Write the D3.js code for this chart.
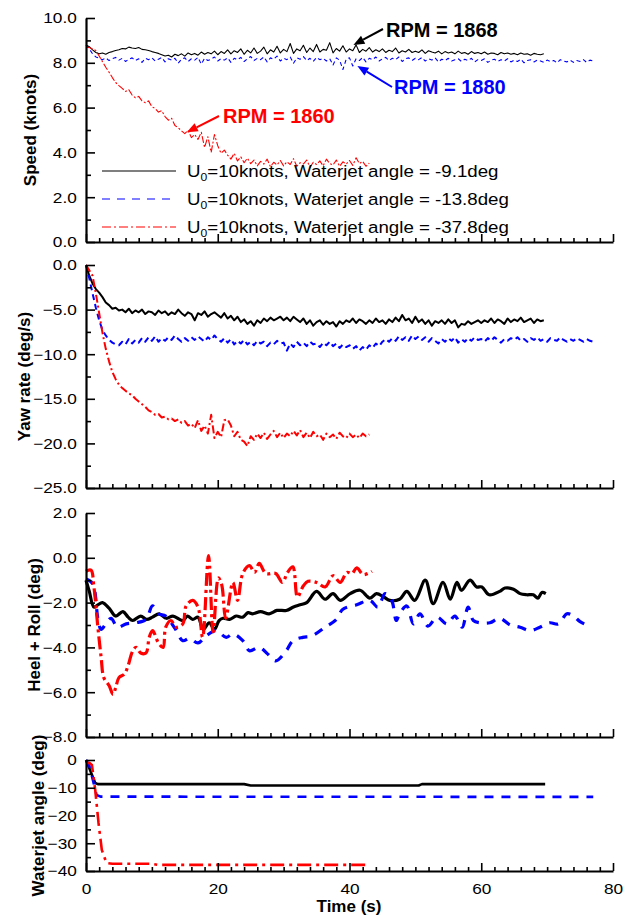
<!DOCTYPE html>
<html>
<head>
<meta charset="utf-8">
<script src="https://cdn.jsdelivr.net/npm/d3@7"></script>
<style>
  body { margin: 0; background: #fff; }
  svg { display: block; font-family: "Liberation Sans", Arial, sans-serif; }
</style>
</head>
<body>
<div id="chart"></div>
<script>
// sample spacing (s) for the noisy records
var DT = 0.5

// Speed (knots), one value every DT seconds from t = 0
var speedBlack = [
  8.80, 8.72, 8.58, 8.46, 8.40, 8.44, 8.38, 8.46, 8.50, 8.55,
  8.58, 8.64, 8.62, 8.70, 8.66, 8.64, 8.68, 8.60, 8.58, 8.55,
  8.50, 8.46, 8.42, 8.36, 8.30, 8.34, 8.26, 8.38, 8.32, 8.40,
  8.30, 8.44, 8.36, 8.42, 8.34, 8.48, 8.38, 8.46, 8.40, 8.52,
  8.36, 8.50, 8.42, 8.58, 8.40, 8.54, 8.46, 8.62, 8.38, 8.56,
  8.44, 8.66, 8.42, 8.52, 8.70, 8.40, 8.58, 8.48, 8.74, 8.44,
  8.60, 8.50, 8.86, 8.42, 8.62, 8.54, 8.78, 8.46, 8.66, 8.50,
  8.82, 8.48, 8.60, 8.56, 8.90, 8.44, 8.64, 8.52, 8.76, 8.48,
  8.62, 8.54, 8.80, 8.46, 8.60, 8.52, 8.68, 8.48, 8.58, 8.50,
  8.62, 8.46, 8.56, 8.50, 8.66, 8.44, 8.54, 8.48, 8.60, 8.46,
  8.52, 8.46, 8.58, 8.42, 8.54, 8.48, 8.44, 8.52, 8.40, 8.50,
  8.44, 8.48, 8.40, 8.52, 8.42, 8.46, 8.38, 8.50, 8.42, 8.46,
  8.40, 8.48, 8.38, 8.44, 8.42, 8.36, 8.46, 8.40, 8.44, 8.38,
  8.42, 8.36, 8.44, 8.38, 8.40, 8.34, 8.42, 8.38, 8.36, 8.40
]
var speedBlue = [
  8.80, 8.62, 8.40, 8.26, 8.20, 8.14, 8.22, 8.10, 8.18, 8.24,
  8.12, 8.20, 8.06, 8.16, 8.22, 8.10, 8.18, 8.02, 8.20, 8.14,
  8.22, 8.08, 8.16, 8.24, 8.04, 8.18, 8.12, 8.20, 7.98, 8.16,
  8.22, 8.06, 8.18, 8.12, 8.24, 7.94, 8.20, 8.10, 8.16, 8.26,
  8.08, 8.18, 8.12, 8.22, 8.02, 8.20, 8.14, 8.24, 8.06, 8.18,
  8.28, 8.10, 8.20, 8.14, 8.26, 8.04, 8.22, 8.16, 8.30, 8.08,
  8.20, 8.14, 8.26, 7.98, 8.22, 8.16, 8.28, 8.10, 8.20, 8.06,
  8.24, 8.14, 8.20, 8.08, 8.18, 7.90, 8.22, 8.12, 7.70, 8.16,
  8.22, 7.86, 8.18, 8.10, 8.24, 8.04, 8.20, 8.14, 8.26, 8.08,
  8.18, 8.24, 8.10, 8.20, 8.14, 8.26, 8.06, 8.18, 8.22, 8.10,
  8.20, 8.14, 8.24, 8.08, 8.18, 8.12, 8.22, 8.04, 8.16, 8.10,
  8.20, 8.08, 8.14, 8.18, 8.06, 8.16, 8.10, 8.20, 8.04, 8.14,
  8.10, 8.18, 8.02, 8.12, 8.16, 8.06, 8.14, 8.08, 8.18, 8.04,
  8.12, 8.06, 8.16, 8.00, 8.10, 8.14, 8.04, 8.12, 8.08, 8.02,
  8.12, 8.06, 8.10, 8.00, 8.14, 8.08, 8.04, 8.12, 8.02, 8.10,
  8.06, 8.14, 8.02, 8.12, 8.08
]
var speedRed = [
  8.70, 8.68, 8.62, 8.55, 8.30, 8.05, 7.80, 7.58, 7.34, 7.12,
  6.98, 6.86, 6.72, 6.80, 6.56, 6.44, 6.50, 6.30, 6.22, 6.30,
  6.04, 5.96, 5.80, 5.86, 5.60, 5.44, 5.52, 5.20, 5.10, 4.96,
  4.84, 4.98, 4.66, 4.80, 4.58, 4.90, 4.22, 4.70, 4.00, 4.80,
  4.30, 3.96, 4.10, 3.88, 3.70, 3.96, 3.62, 3.80, 3.54, 3.74,
  3.50, 3.66, 3.40, 3.60, 3.48, 3.70, 3.36, 3.56, 3.44, 3.64,
  3.40, 3.58, 3.46, 3.72, 3.38, 3.54, 3.48, 3.66, 3.34, 3.56,
  3.46, 3.62, 3.40, 3.70, 3.50, 3.44, 3.66, 3.38, 3.58, 3.48,
  3.64, 3.42, 3.76, 3.50, 3.60, 3.38, 3.52
]

// Yaw rate (deg/s), one value every DT seconds from t = 0
var yawBlack = [
  0.00, -1.20, -2.10, -2.70, -3.10, -3.60, -4.20, -4.50, -4.90, -4.80,
  -5.10, -5.00, -5.30, -4.90, -5.40, -5.10, -5.30, -5.00, -5.50, -5.20,
  -5.30, -5.60, -5.10, -5.40, -5.20, -5.60, -5.30, -5.50, -5.00, -5.40,
  -5.70, -5.30, -5.50, -6.20, -5.40, -5.60, -5.20, -5.80, -5.50, -5.30,
  -5.60, -5.90, -5.40, -6.00, -5.70, -6.20, -5.80, -6.40, -6.10, -6.60,
  -6.30, -6.80, -6.20, -6.50, -6.00, -6.30, -5.90, -6.20, -6.00, -5.80,
  -6.20, -5.90, -6.30, -5.80, -6.10, -6.40, -6.00, -6.60, -6.20, -6.80,
  -6.40, -6.20, -6.70, -6.30, -6.60, -6.40, -6.90, -6.30, -6.60, -6.20,
  -6.40, -6.00, -6.50, -6.10, -6.30, -6.60, -6.20, -6.50, -6.00, -6.40,
  -6.20, -6.60, -6.10, -6.40, -5.90, -6.30, -5.60, -6.20, -6.00, -6.50,
  -5.80, -6.40, -6.10, -6.60, -6.20, -6.80, -6.30, -6.50, -6.20, -6.60,
  -6.10, -6.50, -6.20, -7.00, -6.60, -6.70, -6.30, -6.60, -6.40, -6.20,
  -6.50, -6.20, -6.40, -6.00, -6.50, -6.10, -6.30, -6.60, -6.00, -6.40,
  -6.10, -6.30, -5.90, -6.40, -6.20, -6.00, -6.50, -6.10, -6.30, -6.20
]
var yawBlue = [
  0.00, -1.50, -3.20, -4.80, -6.20, -7.30, -7.90, -8.40, -8.70, -8.90,
  -9.00, -8.60, -8.90, -8.30, -8.80, -8.40, -8.70, -8.20, -8.60, -8.10,
  -8.50, -8.00, -8.60, -8.20, -8.50, -8.10, -8.40, -7.90, -8.30, -8.60,
  -8.20, -8.50, -8.10, -8.40, -8.00, -8.30, -8.60, -8.10, -8.40, -7.90,
  -8.30, -8.60, -8.20, -8.70, -8.30, -8.90, -8.50, -8.80, -8.40, -8.90,
  -8.60, -9.00, -8.50, -8.80, -8.60, -9.10, -8.70, -8.90, -8.50, -8.80,
  -8.70, -9.60, -8.80, -9.20, -8.60, -9.00, -8.70, -9.10, -8.60, -8.90,
  -8.80, -9.20, -8.70, -9.00, -8.60, -9.10, -8.80, -9.30, -8.90, -9.20,
  -9.00, -9.40, -9.10, -9.60, -9.20, -9.50, -9.00, -9.30, -8.80, -9.10,
  -8.60, -8.30, -8.60, -8.20, -8.50, -8.00, -8.40, -8.10, -8.50, -7.90,
  -8.30, -8.00, -8.40, -8.10, -8.60, -8.20, -8.50, -8.80, -8.30, -8.60,
  -8.20, -8.50, -8.10, -8.70, -8.30, -8.60, -8.20, -8.50, -8.10, -8.40,
  -8.30, -8.60, -8.20, -8.50, -8.10, -8.40, -8.70, -8.30, -8.50, -8.20,
  -8.40, -8.10, -8.50, -8.30, -8.60, -8.20, -8.40, -8.10, -8.50, -8.30,
  -8.60, -8.20, -8.40, -8.50, -8.10, -8.40, -8.60, -8.30, -8.50, -8.20,
  -8.40, -8.60, -8.30, -8.50, -8.60
]
var yawRed = [
  0.00, -0.60, -1.20, -3.20, -5.40, -7.60, -9.40, -10.80, -12.00, -12.80,
  -13.40, -13.80, -14.10, -14.40, -14.60, -15.00, -15.30, -15.60, -15.90, -16.30,
  -16.50, -16.80, -16.70, -17.10, -17.00, -17.30, -17.20, -17.50, -17.30, -17.70,
  -17.50, -18.00, -17.80, -18.30, -17.40, -18.60, -18.00, -18.90, -16.80, -19.40,
  -18.70, -19.30, -17.40, -17.30, -18.00, -19.20, -18.70, -19.60, -19.80, -20.30,
  -19.20, -19.60, -18.90, -19.40, -18.80, -19.50, -19.00, -18.60, -19.30, -18.80,
  -19.40, -18.90, -19.20, -18.60, -19.10, -18.50, -19.30, -18.80, -19.40, -18.70,
  -19.20, -19.00, -19.60, -18.90, -19.30, -19.00, -19.50, -18.80, -19.20, -19.40,
  -18.90, -19.30, -19.00, -19.40, -18.90, -19.20, -19.00
]

// Heel + Roll (deg), [time, value]
var heelBlack = [[0,-1.0],[0.5,-1.5],[1.2,-2.2],[1.8,-2.1],[2.5,-2.0],[3.5,-2.25],[4.5,-2.6],[5.6,-2.4],[6.4,-2.65],[7.1,-2.8],[8.3,-2.6],[9.2,-2.75],[10.1,-2.65],[11.1,-2.5],[12.2,-2.7],[13.2,-2.6],[14.7,-2.8],[15.4,-2.6],[16.2,-2.75],[17.0,-2.65],[17.8,-3.2],[18.7,-2.9],[19.5,-3.2],[20.2,-2.8],[20.8,-2.7],[21.8,-2.75],[22.8,-2.6],[23.8,-2.65],[24.6,-2.45],[25.3,-2.5],[26.5,-2.4],[27.8,-2.5],[29,-2.35],[30.4,-2.35],[31.5,-2.2],[32.5,-2.1],[33.5,-2.0],[35,-1.5],[36.3,-1.85],[37.5,-1.6],[38.6,-1.9],[40.1,-1.6],[41.6,-1.45],[43.1,-1.8],[44.1,-1.6],[45.2,-1.75],[46.1,-1.9],[47.6,-1.85],[48.7,-1.5],[49.9,-1.9],[51.5,-1.0],[52.7,-2.05],[54.2,-1.1],[55.3,-1.85],[56.3,-1.1],[57,-1.45],[58.3,-1.0],[59.3,-1.3],[60.1,-1.3],[61.2,-1.65],[62.8,-1.5],[63.6,-1.35],[64.9,-1.4],[65.9,-1.6],[66.9,-1.65],[67.9,-1.65],[68.6,-1.8],[69.2,-1.55],[69.8,-1.6]]
var heelBlue = [[0,-0.95],[1,-1.15],[1.8,-2.7],[2.3,-3.2],[3,-2.95],[3.8,-2.7],[4.8,-3.1],[6.1,-2.95],[7.6,-2.9],[9.1,-2.75],[10.1,-2.15],[11,-2.5],[12.1,-2.6],[13.4,-3.1],[14.7,-3.7],[15.7,-3.6],[17,-3.8],[18.2,-3.5],[19.7,-3.25],[21.3,-3.55],[22.3,-3.4],[23.8,-3.7],[24.8,-4.15],[26.3,-4.0],[27.6,-4.3],[28.8,-4.6],[30.4,-4.15],[31.4,-3.7],[32.9,-3.55],[34.2,-3.5],[36.3,-3.1],[38,-2.75],[39,-2.3],[41.1,-2.1],[43.1,-1.9],[44.3,-2.2],[45.4,-1.6],[46.4,-1.9],[47.1,-2.8],[47.6,-2.5],[48.7,-2.15],[49.7,-2.95],[50.7,-2.5],[51.9,-3.05],[53.3,-2.65],[54.8,-2.95],[56,-2.6],[57.1,-3.1],[58,-2.2],[58.8,-2.8],[59.8,-2.9],[61.3,-2.9],[62.8,-2.7],[64.4,-3.0],[65.9,-3.1],[67.4,-3.25],[68.9,-3.1],[70.4,-2.9],[71.7,-2.95],[73,-2.5],[74,-2.6],[75,-2.85],[76,-3.0]]
var heelRed = [[0,-0.6],[0.75,-0.55],[1.2,-1.3],[1.8,-3.1],[2.3,-4.45],[2.7,-5.35],[3.5,-5.7],[4.1,-6.1],[4.5,-5.8],[5,-5.35],[5.8,-5.2],[6.3,-4.9],[7.1,-4.15],[7.6,-4.0],[8.3,-4.25],[9.1,-4.25],[9.6,-3.55],[10.1,-3.25],[11,-3.8],[11.7,-4.0],[12.1,-3.1],[12.9,-2.8],[13.7,-3.1],[14.7,-2.95],[15.2,-2.15],[16.2,-1.9],[17,-2.2],[17.7,-3.55],[18.6,0.1],[19.3,-3.3],[20.1,-0.9],[20.6,-1.2],[21.2,-2.7],[22.3,-1.1],[23,-1.9],[23.8,-0.7],[24.8,-0.35],[25.6,-0.65],[26.3,-0.25],[27.3,-0.7],[28.8,-0.7],[29.8,-1.1],[30.6,-0.65],[31.4,-0.4],[32.1,-1.75],[33,-1.25],[33.7,-1.05],[35,-1.1],[36.3,-1.3],[37.5,-0.8],[38.6,-1.1],[39.6,-0.65],[40.4,-0.7],[41.1,-0.45],[42.1,-0.75],[43.4,-0.6]]

// Waterjet angle (deg), [time, value]
var jetBlack = [[0,0],[1.4,-8.3],[1.8,-8.7],[24,-8.7],[25,-9.2],[50.5,-9.2],[51,-8.7],[69.7,-8.7]]
var jetBlue = [[0,0],[0.5,-2],[1.6,-12.6],[2.2,-13.2],[77,-13.3]]
var jetRed = [[0,-1.1],[0.5,-1.0],[0.9,-1.8],[1.4,-10.8],[1.9,-22.7],[2.4,-32.4],[3.1,-37.1],[4,-37.4],[10,-37.4],[11,-37.8],[43,-37.8]]

var legendAngles = ["-9.1", "-13.8", "-37.8"]
var timeTicks = [0, 20, 40, 60, 80]

// RPM call-outs: label and the [time, speed] point the arrow touches
var rpmNotes = [
  {label: "RPM = 1868", color: "#000", at: [40.6, 8.8], tx: 386, ty: 37, ax: 383, ay: 29},
  {label: "RPM = 1880", color: "#0000ff", at: [41.2, 7.86], tx: 394, ty: 94, ax: 392, ay: 87},
  {label: "RPM = 1860", color: "#ff0000", at: [15.3, 4.9], tx: 223, ty: 123, ax: 219, ay: 116}
]

function sampled(arr) { return arr.map(function(v, i) { return [i * DT, v] }) }

var colors = ["#000000", "#0000ff", "#ff0000"]

var panels = [
  {title: "Speed (knots)", top: 18, bottom: 242, domain: [0, 10], majors: d3.range(0, 10.01, 2), minors: d3.range(1, 10, 2), fmt: d3.format(".1f"), titleX: 30,
   series: [sampled(speedBlack), sampled(speedBlue), sampled(speedRed)], width: 1.1, dash: [null, "4,3", "7,2,2,2"], curve: d3.curveLinear},
  {title: "Yaw rate (deg/s)", top: 265, bottom: 488, domain: [-25, 0], majors: d3.range(-25, 0.01, 5), minors: d3.range(-22.5, 0, 5), fmt: d3.format(".1f"), titleX: 24,
   series: [sampled(yawBlack), sampled(yawBlue), sampled(yawRed)], width: 2, dash: [null, "6,4", "8,3,2,3"], curve: d3.curveLinear},
  {title: "Heel + Roll (deg)", top: 513, bottom: 737, domain: [-8, 2], majors: d3.range(-8, 2.01, 2), minors: d3.range(-7, 2, 2), fmt: d3.format(".1f"), titleX: 34,
   series: [heelBlack, heelBlue, heelRed], width: 3.2, dash: [null, "9,8", "13,4,3,4"], curve: d3.curveCatmullRom},
  {title: "Waterjet angle (deg)", top: 760, bottom: 871, domain: [-40, 0], majors: d3.range(-40, 0.01, 10), minors: d3.range(-35, 0, 10), fmt: d3.format("d"), titleX: 38,
   series: [jetBlack, jetBlue, jetRed], width: 2.6, dash: [null, "9,8", "14,5,3,5"], curve: d3.curveLinear}
]

var svg = d3.select('#chart').append('svg').attr('width', 637).attr('height', 916)

var x = d3.scaleLinear().domain([0, 80]).range([86, 613])

panels.forEach(function(p, pi) {
  var y = d3.scaleLinear().domain(p.domain).range([p.bottom, p.top])
  var g = svg.append('g')

  // curves
  p.series.forEach(function(s, si) {
    var line = d3.line().x(function(d) { return x(d[0]) }).y(function(d) { return y(d[1]) }).curve(p.curve)
    g.append('path')
      .attr('d', line(s))
      .attr('fill', 'none')
      .attr('stroke', colors[si])
      .attr('stroke-width', p.width)
      .attr('stroke-linejoin', 'round')
      .attr('stroke-dasharray', p.dash[si])
  })

  // y axis, majors then minors, ticks pointing inward
  var ya = g.append('g').attr('transform', 'translate(86,0)')
    .call(d3.axisLeft(y).tickValues(p.majors).tickFormat(p.fmt).tickSize(-9).tickSizeOuter(0).tickPadding(8))
  g.append('g').attr('transform', 'translate(86,0)')
    .call(d3.axisLeft(y).tickValues(p.minors).tickFormat('').tickSize(-5).tickSizeOuter(0))
    .select('.domain').remove()
  ya.selectAll('text')
    .attr('font-size', 15)
    .attr('font-family', '"Liberation Sans", Arial, sans-serif')
    .attr('fill', '#000')
    .attr('transform', 'scale(1.15,1)')

  // x axis at the bottom of every panel
  var last = pi === panels.length - 1
  var xa = g.append('g').attr('transform', 'translate(0,' + p.bottom + ')')
    .call(d3.axisBottom(x).tickValues(timeTicks).tickFormat(last ? d3.format('d') : '').tickSize(-8).tickSizeOuter(0).tickPadding(12))
  g.append('g').attr('transform', 'translate(0,' + p.bottom + ')')
    .call(d3.axisBottom(x).tickValues(d3.range(2, 80, 2).filter(function(t) { return t % 20 !== 0 })).tickFormat('').tickSize(-4).tickSizeOuter(0))
    .select('.domain').remove()
  xa.selectAll('text')
    .attr('font-size', 15)
    .attr('font-family', '"Liberation Sans", Arial, sans-serif')
    .attr('fill', '#000')
    .attr('transform', 'scale(1.15,1)')

  g.selectAll('.domain').attr('stroke-width', 2.2)
  g.selectAll('.tick line').attr('stroke-width', 1.6)

  svg.append('text')
    .attr('transform', 'translate(' + p.titleX + ',' + ((p.top + p.bottom) / 2) + ') rotate(-90)')
    .attr('text-anchor', 'middle')
    .attr('dominant-baseline', 'central')
    .attr('font-size', 17)
    .attr('font-weight', 'bold')
    .text(p.title)
})

svg.append('text')
  .attr('x', 349).attr('y', 912)
  .attr('text-anchor', 'middle')
  .attr('font-size', 17)
  .attr('font-weight', 'bold')
  .text('Time (s)')

// legend
var legend = svg.append('g')
legendAngles.forEach(function(a, i) {
  var ly = 171 + i * 28
  legend.append('line')
    .attr('x1', 102).attr('x2', 176).attr('y1', ly).attr('y2', ly)
    .attr('stroke', colors[i]).attr('stroke-width', 1.1)
    .attr('stroke-dasharray', panels[0].dash[i] ? (i === 1 ? '8,7' : '9,3,2,3') : null)
  var t = legend.append('text')
    .attr('transform', 'translate(187,' + (ly + 6) + ') scale(1.1,1)')
    .attr('font-size', 17)
  t.append('tspan').text('U')
  t.append('tspan').attr('font-size', 11).attr('dy', 4).text('0')
  t.append('tspan').attr('dy', -4).text('=10knots, Waterjet angle = ' + a + 'deg')
})

// RPM call-outs with arrows
var ys = d3.scaleLinear().domain(panels[0].domain).range([panels[0].bottom, panels[0].top])
rpmNotes.forEach(function(n) {
  var tipX = x(n.at[0]), tipY = ys(n.at[1])
  var ang = Math.atan2(tipY - n.ay, tipX - n.ax)
  var hl = 11, hw = 4.5
  var bx = tipX - hl * Math.cos(ang), by = tipY - hl * Math.sin(ang)
  svg.append('line')
    .attr('x1', n.ax).attr('y1', n.ay).attr('x2', bx).attr('y2', by)
    .attr('stroke', n.color).attr('stroke-width', 2)
  svg.append('path')
    .attr('d', 'M' + tipX + ',' + tipY +
      'L' + (bx + hw * Math.sin(ang)) + ',' + (by - hw * Math.cos(ang)) +
      'L' + (bx - hw * Math.sin(ang)) + ',' + (by + hw * Math.cos(ang)) + 'Z')
    .attr('fill', n.color)
  svg.append('text')
    .attr('x', n.tx).attr('y', n.ty)
    .attr('font-size', 20)
    .attr('font-weight', 'bold')
    .attr('fill', n.color)
    .text(n.label)
})
</script>
</body>
</html>
